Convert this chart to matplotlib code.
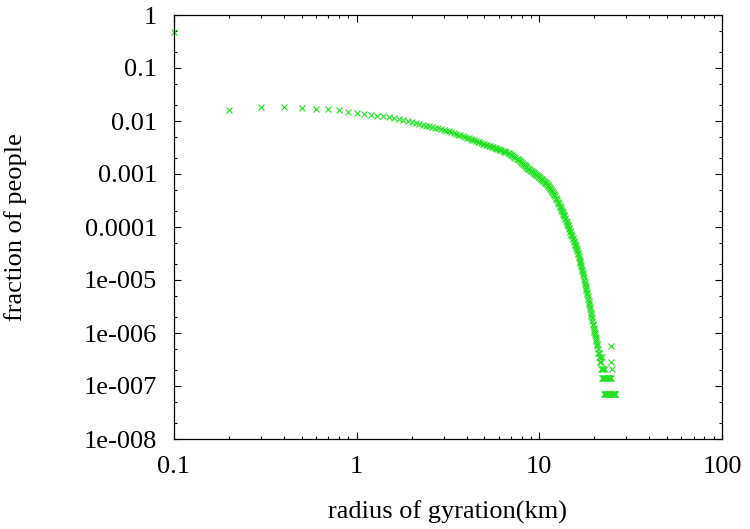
import matplotlib
matplotlib.use('Agg')
import matplotlib.pyplot as plt
from matplotlib.ticker import FixedLocator, NullFormatter

# ---------------- data ----------------
radius_km = [
    0.1, 0.2, 0.3, 0.4, 0.5, 0.6, 0.7, 0.8, 0.9,
    1.0, 1.1, 1.2, 1.3, 1.4, 1.5, 1.6, 1.7, 1.8, 1.9,
    2.0, 2.1, 2.2, 2.3, 2.4, 2.5, 2.6, 2.7, 2.8, 2.9,
    3.0, 3.1, 3.2, 3.3, 3.4, 3.5, 3.6, 3.7, 3.8, 3.9,
    4.0, 4.1, 4.2, 4.3, 4.4, 4.5, 4.6, 4.7, 4.8, 4.9,
    5.0, 5.1, 5.2, 5.3, 5.4, 5.5, 5.6, 5.7, 5.8, 5.9,
    6.0, 6.1, 6.2, 6.3, 6.4, 6.5, 6.6, 6.7, 6.8, 6.9,
    7.0, 7.1, 7.2, 7.3, 7.4, 7.5, 7.6, 7.7, 7.8, 7.9,
    8.0, 8.1, 8.2, 8.3, 8.4, 8.5, 8.6, 8.7, 8.8, 8.9,
    9.0, 9.1, 9.2, 9.3, 9.4, 9.5, 9.6, 9.7, 9.8, 9.9,
    10.0, 10.1, 10.2, 10.3, 10.4, 10.5, 10.6, 10.7, 10.8, 10.9,
    11.0, 11.1, 11.2, 11.3, 11.4, 11.5, 11.6, 11.7, 11.8, 11.9,
    12.0, 12.1, 12.2, 12.3, 12.4, 12.5, 12.6, 12.7, 12.8, 12.9,
    13.0, 13.1, 13.2, 13.3, 13.4, 13.5, 13.6, 13.7, 13.8, 13.9,
    14.0, 14.1, 14.2, 14.3, 14.4, 14.5, 14.6, 14.7, 14.8, 14.9,
    15.0, 15.1, 15.2, 15.3, 15.4, 15.5, 15.6, 15.7, 15.8, 15.9,
    16.0, 16.1, 16.2, 16.3, 16.4, 16.5, 16.6, 16.7, 16.8, 16.9,
    17.0, 17.1, 17.2, 17.3, 17.4, 17.5, 17.6, 17.7, 17.8, 17.9,
    18.0, 18.1, 18.2, 18.3, 18.4, 18.5, 18.6, 18.7, 18.8, 18.9,
    19.0, 19.1, 19.2, 19.3, 19.4, 19.5, 19.6, 19.7, 19.8, 19.9,
    20.0, 20.1, 20.2, 20.3, 20.4, 20.5, 20.6, 20.7, 20.8, 20.9,
    21.0, 21.1, 21.2, 21.3, 21.4, 21.5, 21.6, 21.7, 21.8, 21.9,
    22.0, 22.1, 22.2, 22.3, 22.4, 22.5, 22.6, 22.7, 22.8, 22.9,
    23.0, 23.1, 23.2, 23.3, 23.4, 23.5, 23.6, 23.7, 23.8, 23.9,
    24.0, 24.1, 24.2, 24.3, 24.4, 24.5, 24.6, 24.7, 24.8, 24.9,
    25.0, 25.1, 25.2, 25.3, 25.4, 25.5, 25.6, 25.7, 25.8, 25.9,
    26.0,
]

fraction_people = [
    0.47, 0.0159, 0.0181, 0.0183, 0.0178, 0.0171, 0.0166, 0.0159, 0.0150,
    0.01413, 0.01357, 0.01303, 0.01263, 0.01225, 0.01178, 0.01134, 0.01091, 0.01048, 0.01006,
    0.00966, 0.00928, 0.00891, 0.00856, 0.00822, 0.00797, 0.00773, 0.00749, 0.00727, 0.00705,
    0.00681, 0.00657, 0.00635, 0.00613, 0.00592, 0.00571, 0.00553, 0.00536, 0.00519, 0.00502,
    0.00486, 0.00473, 0.00459, 0.00446, 0.00434, 0.00421, 0.00409, 0.00398, 0.00386, 0.00375,
    0.00365, 0.00357, 0.00349, 0.00342, 0.00334, 0.00327, 0.00320, 0.00313, 0.00306, 0.00300,
    0.00293, 0.00287, 0.00281, 0.00275, 0.00270, 0.00264, 0.00259, 0.00254, 0.00248, 0.00240,
    0.00232, 0.00224, 0.00216, 0.00209, 0.00202, 0.00195, 0.00188, 0.00181, 0.00175, 0.00168,
    0.00162, 0.00156, 0.00151, 0.00145, 0.00140, 0.00135, 0.00131, 0.00126, 0.00122, 0.00119,
    0.00115, 0.00112, 0.00109, 0.00106, 0.00103, 0.00100, 0.000973, 0.000946, 0.000920, 0.000895,
    0.000871, 0.000845, 0.000820, 0.000796, 0.000773, 0.000750, 0.000728, 0.000706, 0.000685, 0.000665,
    0.000646, 0.000619, 0.000594, 0.000570, 0.000547, 0.000525, 0.000504, 0.000483, 0.000463, 0.000445,
    0.000427, 0.000403, 0.000380, 0.000359, 0.000339, 0.000320, 0.000302, 0.000285, 0.000269, 0.000254,
    0.000240, 0.000226, 0.000213, 0.000200, 0.000189, 0.000178, 0.000167, 0.000158, 0.000149, 0.000140,
    0.000132, 0.000124, 0.000116, 0.000109, 0.000103, 9.66e-5, 9.08e-5, 8.53e-5, 8.02e-5, 7.53e-5,
    7.08e-5, 6.65e-5, 6.25e-5, 5.87e-5, 5.52e-5, 5.19e-5, 4.88e-5, 4.58e-5, 4.31e-5, 4.05e-5,
    3.80e-5, 3.52e-5, 3.27e-5, 3.03e-5, 2.81e-5, 2.60e-5, 2.41e-5, 2.23e-5, 2.07e-5, 1.92e-5,
    1.78e-5, 1.62e-5, 1.48e-5, 1.35e-5, 1.23e-5, 1.12e-5, 1.02e-5, 9.33e-6, 8.51e-6, 7.76e-6,
    7.08e-6, 6.46e-6, 5.89e-6, 5.37e-6, 4.90e-6, 4.47e-6, 4.07e-6, 3.72e-6, 3.39e-6, 3.09e-6,
    2.82e-6, 2.52e-6, 2.31e-6, 2.10e-6, 1.89e-6, 1.68e-6, 1.47e-6, 1.40e-6, 1.26e-6, 1.12e-6,
    1.05e-6, 9.1e-7, 9.8e-7, 8.4e-7, 7.0e-7, 7.7e-7, 6.3e-7, 5.6e-7, 6.3e-7, 4.2e-7,
    4.9e-7, 4.2e-7, 3.5e-7, 4.2e-7, 2.8e-7, 3.5e-7, 2.8e-7, 2.1e-7, 2.8e-7, 2.1e-7,
    3.5e-7, 1.4e-7, 2.1e-7, 1.4e-7, 2.1e-7, 1.4e-7, 7e-8, 1.4e-7, 2.1e-7, 7e-8,
    1.4e-7, 7e-8, 1.4e-7, 7e-8, 1.4e-7, 7e-8, 7e-8, 1.4e-7, 7e-8, 1.4e-7,
    7e-8, 7e-8, 1.4e-7, 7e-8, 1.4e-7, 7e-8, 1.4e-7, 5.6e-7, 2.8e-7, 2.1e-7,
    7e-8, 7e-8, 7e-8, 7e-8, 7e-8, 7e-8, 7e-8, 7e-8, 7e-8, 7e-8,
    7e-8,
]

x_tick_values = [0.1, 1, 10, 100]
x_tick_labels = ['0.1', '1', '10', '100']
y_tick_values = [1e-8, 1e-7, 1e-6, 1e-5, 1e-4, 1e-3, 1e-2, 1e-1, 1]
y_tick_labels = ['1e-008', '1e-007', '1e-006', '1e-005', '0.0001', '0.001', '0.01', '0.1', '1']
x_label = 'radius of gyration(km)'
y_label = 'fraction of people'

# ---------------- figure ----------------
plt.rcParams['font.family'] = ['Liberation Serif', 'DejaVu Serif']
W, H = 750, 529
fig = plt.figure(figsize=(W / 100, H / 100), dpi=100)
L, R, T, B = 174, 722, 15, 439
ax = fig.add_axes([L / W, 1 - B / H, (R - L) / W, (B - T) / H])

ax.plot(radius_km, fraction_people, linestyle='none', marker='x',
        markersize=5, markeredgewidth=0.8, color='#22e022', clip_on=False)

ax.set_xscale('log')
ax.set_yscale('log')
ax.set_xlim(0.1, 100)
ax.set_ylim(1e-8, 1)

ax.xaxis.set_major_locator(FixedLocator(x_tick_values))
ax.set_xticklabels(x_tick_labels)
ax.yaxis.set_major_locator(FixedLocator(y_tick_values))
ax.set_yticklabels(y_tick_labels)

x_minor = [m * d for d in (0.1, 1, 10) for m in range(2, 10)]
y_minor = [m * d for d in (1e-8, 1e-7, 1e-6, 1e-5, 1e-4, 1e-3, 1e-2, 1e-1) for m in (2, 5)]
ax.xaxis.set_minor_locator(FixedLocator(x_minor))
ax.yaxis.set_minor_locator(FixedLocator(y_minor))
ax.xaxis.set_minor_formatter(NullFormatter())
ax.yaxis.set_minor_formatter(NullFormatter())

ax.tick_params(which='both', direction='in', top=True, right=True,
               labelsize=19, colors='black')
ax.tick_params(which='major', length=5, width=0.8, pad=12)
ax.tick_params(which='minor', length=2.5, width=0.8)
for s in ax.spines.values():
    s.set_linewidth(0.9)

ax.set_xlabel(x_label, fontsize=19)
ax.set_ylabel(y_label, fontsize=19)
ax.xaxis.set_label_coords(0.5, (B - 512) / (B - T))
ax.yaxis.set_label_coords((16 - L) / (R - L), 0.5)
ax.xaxis.label.set_va('center')
ax.yaxis.label.set_va('center')

fig.savefig('out.png', dpi=100)
